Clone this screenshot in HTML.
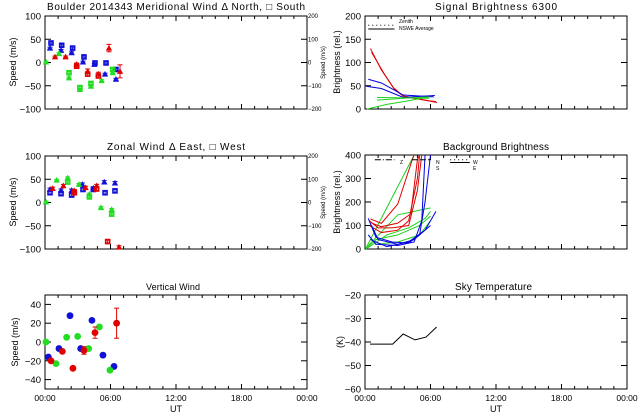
<!DOCTYPE html>
<html><head><meta charset="utf-8"><style>
html,body{margin:0;padding:0;background:#fff;}
svg{display:block;font-family:"Liberation Sans",sans-serif;}
text{fill:#000;}
</style></head><body>
<svg id="c" width="640" height="420" viewBox="0 0 640 420"></svg>
<script>
// ---- data ----
const merBlueH=[0.55,0.46,1.53,1.47,2.53,2.44,3.57,3.48,4.58,4.52,5.59,5.5,6.5,6.5];
const merBlueV=[42,31,37,26,31,21,12,1,-1,-4,-1,-25,-15,-36];
const merBlueS=['s','t','s','t','s','t','s','t','s','t','s','t','s','t'];
const merGreenH=[0.09,1.28,2.2,2.2,3.2,3.2,4.21,4.21,5.19,6.2,6.2];
const merGreenV=[1,19,-22,-33,-54,-58,-45,-51,-39,-15,-22];
const merGreenS=['t','t','s','t','s','t','s','t','t','s','t'];
const merRedH=[0.92,1.89,2.9,2.9,3.91,3.91,4.89,4.89,5.86,6.87];
const merRedV=[12,12,-4,-8,-19,-25,-25,-29,31,-19];
const merRedS=['t','t','t','s','t','s','t','s','t','t'];
const merRedE=[2,2,3,3,5,4,4,4,8,14];

const zonBlueH=[0.46,0.46,1.47,1.47,2.44,2.44,3.42,3.48,4.43,4.43,5.43,5.5,6.41,6.41];
const zonBlueV=[28,21,26,19,26,16,39,28,31,28,44,21,42,25];
const zonBlueS=['t','s','t','s','t','s','t','s','t','s','t','s','t','s'];
const zonGreenH=[0.09,1.07,2.08,2.08,3.11,4.06,4.06,5.13,6.11,6.11];
const zonGreenV=[1,48,53,44,39,18,12,-11,-15,-25];
const zonGreenS=['t','t','t','s','t','t','s','t','t','s'];
const zonRedH=[0.70,1.68,2.69,2.69,3.72,4.73,4.73,5.74,6.78];
const zonRedV=[30,36,25,21,32,36,29,-84,-96];
const zonRedS=['t','t','t','s','t','t','s','s','t'];

const vBlueH=[0.31,1.28,2.29,3.27,4.3,5.31,6.32];
const vBlueV=[-16,-7,28,-7,23,-14,-26];
const vRedH=[0.55,1.59,2.56,3.57,4.58,6.56];
const vRedV=[-20,-10,-28,-9,10,20];
const vRedE=[1,1,1,4,6,16];
const vGreenH=[0.09,1.01,1.98,2.99,4.0,4.98,5.95];
const vGreenV=[0,-23,5,6,-7,16,-30];

const skyH=[0.46,2.53,3.5,4.58,5.59,6.56];
const skyV=[-40.9,-40.9,-36.6,-39.1,-37.9,-33.6];

const sigLines=[
 {c:'#e00000',h:[0.5,1.5,2.6,3.5,4.6,5.5,6.6],v:[130,84,46,28,24,19,14]},
 {c:'#e00000',h:[0.6,1.7,2.7,3.6,4.7,5.7,6.5],v:[122,78,42,26,22,18,16]},
 {c:'#0000e0',h:[0.3,1.5,3.5,6.3],v:[64,56,30,26]},
 {c:'#0000e0',h:[0.1,1.5,3.5,6.4],v:[49,44,25,29]},
 {c:'#20d020',h:[0.2,2.0,3.8,5.9],v:[0,10,17,26]},
 {c:'#20d020',h:[1.1,3.5,5.9],v:[19,23,26]},
 {c:'#20d020',h:[1.1,5.9],v:[25,23]}
];
const bgLines=[
 {c:'#20d020',h:[0.1,4.5],v:[5,400]},
 {c:'#20d020',h:[0.1,3,6],v:[5,145,175]},
 {c:'#20d020',h:[0.1,2,4,5.5,6],v:[0,60,90,130,160]},
 {c:'#20d020',h:[0.1,1,3,5,6],v:[0,40,60,100,140]},
 {c:'#20d020',h:[0.3,1,3,5,6],v:[60,20,30,60,120]},
 {c:'#e00000',h:[0.5,1.5,3,4.3,4.5],v:[128,109,191,376,400]},
 {c:'#e00000',h:[0.4,1.5,3,4,4.8,5],v:[100,70,80,120,300,400]},
 {c:'#e00000',h:[0.4,1.2,2.5,4,4.8,5.2],v:[120,90,90,100,250,400]},
 {c:'#e00000',h:[0.6,1.5,3,4.2,4.8,5],v:[110,95,110,150,380,400]},
 {c:'#0000e0',h:[0.3,1,2.5,4,5,5.5,6],v:[130,50,30,25,60,200,400]},
 {c:'#0000e0',h:[0.3,1,3,4.5,5.2,5.5],v:[60,20,15,30,120,400]},
 {c:'#0000e0',h:[0.5,2,4,5.5,6.5],v:[40,10,30,80,160]},
 {c:'#0000e0',h:[0.6,1.2,3,4.5,6],v:[100,40,20,40,100]}
];
const yTicksWind=[100,50,0,-50,-100];
const yTicksRight=['200','100','0','-100','-200'];
const yTicksVert=[40,20,0,-20,-40];
const yTicksSig=[200,150,100,50,0];
const yTicksBg=[400,300,200,100,0];
const yTicksSky=[-20,-30,-40,-50,-60];
const xTickLabels=['00:00','06:00','12:00','18:00','00:00'];

// ---- drawing ----
const svg=document.getElementById('c');
const NS='http://www.w3.org/2000/svg';
function el(t,a,p){const e=document.createElementNS(NS,t);for(const k in a)e.setAttribute(k,a[k]);(p||svg).appendChild(e);return e;}
function txt(x,y,s,size,anchor,rot){const t=el('text',{x:x,y:y,'font-size':size,'text-anchor':anchor||'middle'});if(rot)t.setAttribute('transform','rotate(-90 '+x+' '+y+')');t.textContent=s;return t;}

function panel(name,x0,y0,x1,y1,ymin,ymax,ticks){
 const g=el('g',{});
 
 
 const P={g:g,x0:x0,x1:x1,y0:y0,y1:y1,
  X:h=>x0+(h/24)*(x1-x0),
  Y:v=>y1-(v-ymin)/(ymax-ymin)*(y1-y0)};
 const r=el('rect',{x:x0,y:y0,width:x1-x0,height:y1-y0,fill:'none',stroke:'#000','stroke-width':1},g);
 
 
 for(let i=0;i<=20;i++){const x=x0+i*(x1-x0)/20;const L=(i%5==0)?5:3;
  el('line',{x1:x,y1:y1,x2:x,y2:y1-L,stroke:'#000','stroke-width':1},g);
  el('line',{x1:x,y1:y0,x2:x,y2:y0+L,stroke:'#000','stroke-width':1},g);}
 ticks.forEach(v=>{const y=P.Y(v);
  el('line',{x1:x0,y1:y,x2:x0+6,y2:y,stroke:'#000','stroke-width':1},g);
  el('line',{x1:x1,y1:y,x2:x1-6,y2:y,stroke:'#000','stroke-width':1},g);
  const t=txt(x0-4,y+3.5,String(v).replace('-','\u2212'),9.5,'end');
  
  
 });
 return P;
}
function xlabels(P){xTickLabels.forEach((s,i)=>{const t=txt(P.X(i*6),P.y1+12,s,8.5);
 
 });
 const u=txt((P.x0+P.x1)/2,P.y1+23,'UT',9);
 
 }
function rightAxis(P){yTicksRight.forEach((s,i)=>{const y=P.y0+i*(P.y1-P.y0)/4;
 const t=el('text',{x:P.x1+1,y:y+2,'font-size':6,'text-anchor':'start'});t.textContent=s.replace('-','\u2212');
 
 });
 const t=txt(P.x1+18,(P.y0+P.y1)/2,'Speed (m/s)',6,'middle',true);
 
 }
function marker(P,h,v,shape,col,err){
 const x=P.X(h),y=P.Y(v);
 if(err){el('line',{x1:x,y1:P.Y(v+err),x2:x,y2:P.Y(v-err),stroke:col,'stroke-width':1},P.g);
  el('line',{x1:x-2.5,y1:P.Y(v+err),x2:x+2.5,y2:P.Y(v+err),stroke:col},P.g);
  el('line',{x1:x-2.5,y1:P.Y(v-err),x2:x+2.5,y2:P.Y(v-err),stroke:col},P.g);}
 let m;
 if(shape=='s') m=el('rect',{x:x-2,y:y-2,width:4,height:4,fill:'none',stroke:col,'stroke-width':1.6},P.g);
 else if(shape=='t') m=el('polygon',{points:(x-2.3)+','+(y+2)+' '+(x+2.3)+','+(y+2)+' '+x+','+(y-2.2),fill:col,stroke:col,'stroke-width':1},P.g);
 else m=el('circle',{cx:x,cy:y,r:3.4,fill:col},P.g);
 
 
}
function line(P,hs,vs,col,w,dash){
 const pts=hs.map((h,i)=>P.X(h)+','+P.Y(vs[i])).join(' ');
 const l=el('polyline',{points:pts,fill:'none',stroke:col,'stroke-width':w||1},P.g);
 if(dash)l.setAttribute('stroke-dasharray',dash);
 
 
}
function ytitle(x,y,s){const t=txt(x,y,s,9,'middle',true);
 
 }
function title(x0,x1,y,s,fs){const t=el('text',{x:x0,y:y,'font-size':fs||10,'text-anchor':'start',textLength:x1-x0,lengthAdjust:'spacing'});
 t.textContent=s;
 
 }

const B='#1010d8',G='#22dd22',R='#e00000';
// Meridional
const P1=panel('meridional-wind-panel',45,16,307,109,-100,100,yTicksWind);
title(47,305,10,'Boulder   2014343     Meridional Wind   \u0394 North, \u25a1 South');
ytitle(16,62,'Speed (m/s)'); rightAxis(P1);
merBlueH.forEach((h,i)=>marker(P1,h,merBlueV[i],merBlueS[i],B,2));
merGreenH.forEach((h,i)=>marker(P1,h,merGreenV[i],merGreenS[i],G,2));
merRedH.forEach((h,i)=>marker(P1,h,merRedV[i],merRedS[i],R,merRedE[i]));
// Zonal
const P2=panel('zonal-wind-panel',45,156,307,249,-100,100,yTicksWind);
title(107,245,150,'Zonal Wind      \u0394 East,  \u25a1 West');
ytitle(16,202,'Speed (m/s)'); rightAxis(P2);
zonBlueH.forEach((h,i)=>marker(P2,h,zonBlueV[i],zonBlueS[i],B,3));
zonGreenH.forEach((h,i)=>marker(P2,h,zonGreenV[i],zonGreenS[i],G,2));
zonRedH.forEach((h,i)=>marker(P2,h,zonRedV[i],zonRedS[i],R,3));
// Vertical
const P3=panel('vertical-wind-panel',45,295,307,389,-50,50,yTicksVert);
title(146,200,290,'Vertical Wind',9);
ytitle(18,342,'Speed (m/s)'); xlabels(P3);
vBlueH.forEach((h,i)=>marker(P3,h,vBlueV[i],'c',B,2));
vGreenH.forEach((h,i)=>marker(P3,h,vGreenV[i],'c',G,1));
vRedH.forEach((h,i)=>marker(P3,h,vRedV[i],'c',R,vRedE[i]));
// Signal
const P4=panel('signal-brightness-panel',365,16,627,109,0,200,yTicksSig);
title(435,557,10,'Signal Brightness      6300');
ytitle(340,62,'Brightness (rel.)');
sigLines.forEach(s=>line(P4,s.h,s.v,s.c,1));
line(P4,[0.3,2.7],[180,180],'#000',1,'1,3');
line(P4,[0.3,2.7],[172,172],'#000',1);
el('text',{x:399,y:23,'font-size':5},P4.g).textContent='Zenith';
el('text',{x:399,y:30,'font-size':5},P4.g).textContent='NSWE Average';
// Background
const P5=panel('background-brightness-panel',365,155,627,249,0,400,yTicksBg);
title(443,549,150,'Background Brightness');
ytitle(340,202,'Brightness (rel.)');
bgLines.forEach(s=>line(P5,s.h,s.v,s.c,1));
line(P5,[0.9,2.7],[380,380],'#000',1,'6,2,1,2');
line(P5,[4.3,6.0],[380,380],'#000',1,'6,2');
line(P5,[7.8,9.6],[380,380],'#000',1,'1,3');
line(P5,[7.8,9.6],[368,368],'#000',1);
[['Z',400,164],['N',436,164],['S',436,170],['W',473,164],['E',473,170]].forEach(a=>{el('text',{x:a[1],y:a[2],'font-size':5},P5.g).textContent=a[0];});
// Sky temperature
const P6=panel('sky-temperature-panel',365,295,627,389,-60,-20,yTicksSky);
title(455,532,290,'Sky Temperature');
ytitle(343,342,'(K)'); xlabels(P6);
line(P6,skyH,skyV,'#000',1);
</script>
</body></html>
